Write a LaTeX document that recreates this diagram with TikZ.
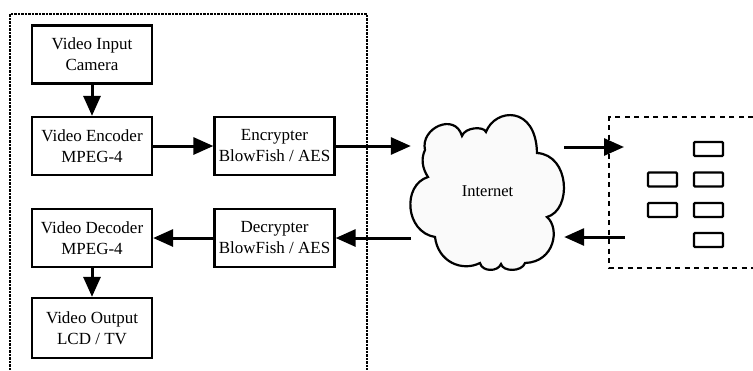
\documentclass[tikz,border=0pt]{standalone}
\usepackage{fontspec}
\setmainfont{Liberation Serif}
\usetikzlibrary{arrows.meta}

\tikzset{
  block/.style={draw, line width=2.3pt, minimum width=120pt, minimum height=58pt,
    inner sep=2pt, align=center, font=\fontsize{17}{21}\selectfont},
  arr/.style={line width=3pt, -{Triangle[length=20pt, width=17pt]}},
  slot/.style={draw, line width=2.2pt, rounded corners=1pt,
    minimum width=29pt, minimum height=14pt, inner sep=0pt},
  dotline/.style={line width=2.4pt, dash pattern=on 2.2pt off 1.3pt},
  dashline/.style={line width=2.4pt, dash pattern=on 5pt off 4.5pt},
}

\begin{document}
\begin{tikzpicture}[x=1pt, y=-1pt]
  \useasboundingbox (0,0) rectangle (753,370);

  % terminal enclosure (open at the bottom)
  \draw[dotline] (10,370) -- (10,14) -- (367,14) -- (367,370);

  % remote station enclosure (open at the right)
  \draw[dashline] (753,117) -- (609,117) -- (609,268) -- (753,268);

  % processing blocks
  \node[block] (vin)  at (92,54.5)  {Video Input\\Camera};
  \node[block] (venc) at (92,146)   {Video Encoder\\MPEG-4};
  \node[block] (encr) at (274.5,146) {Encrypter\\BlowFish / AES};
  \node[block] (vdec) at (92,238)   {Video Decoder\\MPEG-4};
  \node[block] (decr) at (274.5,238) {Decrypter\\BlowFish / AES};
  \node[block, minimum height=60pt] (vout) at (92,328) {Video Output\\LCD / TV};

  % the network cloud: an empty anchor box with the outline drawn around it
  \node[minimum width=153pt, minimum height=153pt, inner sep=0pt] (cloud) at (487.5,191.5) {};
  \draw[line width=2.2pt, fill=white!98!black]
    (425,150) .. controls (420,128) and (455,112) .. (462,136)
    .. controls (465,127) and (484,126) .. (486,132)
    .. controls (495,108) and (536,105) .. (537,153)
    .. controls (570,155) and (572,210) .. (547,217)
    .. controls (560,228) and (555,262) .. (525,263)
    .. controls (522,272) and (503,272) .. (501,264)
    .. controls (498,272) and (482,272) .. (480,263)
    .. controls (462,272) and (438,262) .. (435,237)
    .. controls (405,232) and (402,185) .. (428,177)
    .. controls (422,168) and (421,158) .. (425,150) -- cycle;
  \node[font=\fontsize{16.5}{19}\selectfont] (inet) at (cloud.center) {Internet};

  % remote station units
  \node[slot] (s1) at (708.5,149)   {};
  \node[slot] (s2) at (708.5,179.5) {};
  \node[slot] (s3) at (708.5,210)   {};
  \node[slot] (s4) at (708.5,240)   {};
  \node[slot] (s5) at (662.5,179.5) {};
  \node[slot] (s6) at (662.5,210)   {};

  % connector end points at the remote station
  \coordinate (rin)  at (624,147);
  \coordinate (rout) at (625,237);

  % data flow
  \draw[arr] (vin) -- (venc);
  \draw[arr] (venc) -- (encr);
  \draw[arr] (encr.east) -- (cloud.west |- encr.east);
  \draw[arr] (cloud.east |- rin) -- (rin);
  \draw[arr] (rout) -- (cloud.east |- rout);
  \draw[arr] (cloud.west |- decr.east) -- (decr.east);
  \draw[arr] (decr) -- (vdec);
  \draw[arr] (vdec) -- (vout);
\end{tikzpicture}
\end{document}
